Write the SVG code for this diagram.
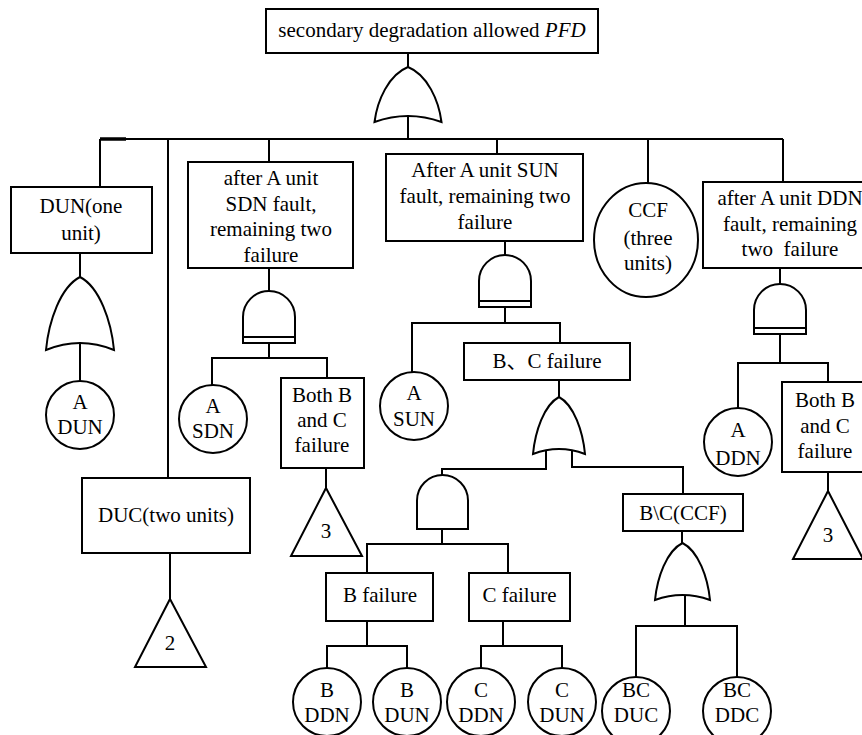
<svg xmlns="http://www.w3.org/2000/svg" width="862" height="735" viewBox="0 0 862 735" font-family="Liberation Serif, Times New Roman, serif">
<style>
.ln{fill:none;stroke:#000;stroke-width:2}
.sh{fill:#fff;stroke:#000;stroke-width:2}
.tx{font-size:21px;text-anchor:middle;fill:#000}
</style>
<rect width="862" height="735" fill="#fff"/>
<g id="connectors" class="ln">
<path d="M408,53V67M408,116V139M100,139H783M100,139V187M168,139V478M269,139V162M497,139V154M648,139V183M783,139V182"/>
<path d="M100,139H126" stroke-width="3.5"/>
<path d="M80,253V277M80,344V381"/>
<path d="M269,268V291M269,343V358H212V385M269,358H327V378M326,468V488"/>
<path d="M170,553V599"/>
<path d="M505,241V255M505,307V323H412V372M505,323H560V343M559,380V397"/>
<path d="M546,451V469H442V475M572,451V467H683V494"/>
<path d="M442,529V544H367V573M442,544H508V573"/>
<path d="M367,621V646H327V668M367,646H407V668M503,621V646H481V668M503,646H562V668"/>
<path d="M682,531V543M685,595V626H636V677M685,626H737V677"/>
<path d="M780,268V284M780,334V363H738V408M780,363H828V382M828,472V491"/>
</g>
<g class="tx">
<g id="top">
<rect class="sh" x="266" y="9" width="332" height="44"/>
<text x="432" y="37">secondary degradation allowed <tspan font-style="italic">PFD</tspan></text>
</g>
<g id="or-top"><path class="sh" d="M408,67C388.6,74.7 377.2,100.6 374.5,122Q408,110 441.5,122C438.8,100.6 427.4,74.7 408,67Z"/></g>
<g id="dun">
<rect class="sh" x="11" y="187" width="141" height="66"/>
<text x="81" y="213">DUN(one</text><text x="81" y="240">unit)</text>
</g>
<g id="or-dun"><path class="sh" d="M80,277C60.3,287.2 48.7,321.5 46,350Q80,336 114,350C111.3,321.5 99.7,287.2 80,277Z"/></g>
<g id="a-dun"><circle class="sh" cx="80" cy="415" r="34"/><text x="80" y="409">A</text><text x="80" y="434">DUN</text></g>
<g id="duc">
<rect class="sh" x="82" y="478" width="168" height="75"/>
<text x="166" y="522">DUC(two units)</text>
</g>
<g id="tri-2"><path class="sh" d="M170,599L206,667H135Z"/><text x="170" y="650">2</text></g>
<g id="sdn">
<rect class="sh" x="188" y="162" width="165" height="106"/>
<text x="271" y="185">after A unit</text><text x="271" y="210.5">SDN fault,</text><text x="271" y="236">remaining two</text><text x="271" y="261.5">failure</text>
</g>
<g id="and-sdn"><path class="sh" d="M243,343V317A26,26 0 0 1 295,317V343Z"/><path class="ln" d="M243,337H295"/></g>
<g id="a-sdn"><circle class="sh" cx="213" cy="419" r="34"/><text x="213" y="413">A</text><text x="213" y="438">SDN</text></g>
<g id="bc-sdn">
<rect class="sh" x="281" y="378" width="83" height="90"/>
<text x="322" y="402">Both B</text><text x="322" y="427">and C</text><text x="322" y="452">failure</text>
</g>
<g id="tri-3a"><path class="sh" d="M326,488L362,556H291Z"/><text x="326" y="538">3</text></g>
<g id="sun">
<rect class="sh" x="386" y="154" width="197" height="87"/>
<text x="485" y="177">After A unit SUN</text><text x="485" y="203">fault, remaining two</text><text x="485" y="229">failure</text>
</g>
<g id="and-sun"><path class="sh" d="M479,307V281A26,26 0 0 1 531,281V307Z"/><path class="ln" d="M479,301H531"/></g>
<g id="a-sun"><circle class="sh" cx="414" cy="406" r="34"/><text x="414" y="400">A</text><text x="414" y="426">SUN</text></g>
<g id="bc-fail">
<rect class="sh" x="464" y="343" width="166" height="37"/>
<text x="547" y="368" font-family="Liberation Serif, Noto Sans CJK SC, serif">B、C failure</text>
</g>
<g id="or-bc"><path class="sh" d="M559,397C543.9,405 535.1,431.8 533,454Q559,444 585,454C582.9,431.8 574.1,405 559,397Z"/></g>
<g id="and-bc"><path class="sh" d="M417,529V500.5A25.5,25.5 0 0 1 468,500.5V529Z"/></g>
<g id="b-fail"><rect class="sh" x="326" y="573" width="107" height="48"/><text x="380" y="602">B failure</text></g>
<g id="c-fail"><rect class="sh" x="469" y="573" width="101" height="48"/><text x="519.5" y="602">C failure</text></g>
<g id="b-ddn"><circle class="sh" cx="327" cy="702" r="34"/><text x="327" y="697">B</text><text x="327" y="722">DDN</text></g>
<g id="b-dun"><circle class="sh" cx="407" cy="702" r="34"/><text x="407" y="697">B</text><text x="407" y="722">DUN</text></g>
<g id="c-ddn"><circle class="sh" cx="481" cy="702" r="34"/><text x="481" y="697">C</text><text x="481" y="722">DDN</text></g>
<g id="c-dun"><circle class="sh" cx="562" cy="702" r="34"/><text x="562" y="697">C</text><text x="562" y="722">DUN</text></g>
<g id="bc-ccf"><rect class="sh" x="623" y="494" width="120" height="37"/><text x="683" y="520">B\C(CCF)</text></g>
<g id="or-ccf"><path class="sh" d="M682.5,543C666.5,551 657.2,577.8 655,600Q682.5,590 710,600C707.8,577.8 698.5,551 682.5,543Z"/></g>
<g id="bc-duc"><circle class="sh" cx="636" cy="711" r="34"/><text x="636" y="697">BC</text><text x="636" y="722">DUC</text></g>
<g id="bc-ddc"><circle class="sh" cx="737" cy="711" r="34"/><text x="737" y="697">BC</text><text x="737" y="722">DDC</text></g>
<g id="ccf"><ellipse class="sh" cx="646" cy="240" rx="52" ry="57"/><text x="648" y="217">CCF</text><text x="648" y="245">(three</text><text x="648" y="270">units)</text></g>
<g id="ddn">
<rect class="sh" x="703" y="182" width="177" height="86"/>
<text x="790" y="205">after A unit DDN</text><text x="790" y="231">fault, remaining</text><text x="790" y="256">two&#160; failure</text>
</g>
<g id="and-ddn"><path class="sh" d="M754,334V310A26,26 0 0 1 806,310V334Z"/><path class="ln" d="M754,328H806"/></g>
<g id="a-ddn"><circle class="sh" cx="738" cy="442" r="34"/><text x="738" y="437">A</text><text x="738" y="465">DDN</text></g>
<g id="bc-ddn">
<rect class="sh" x="782" y="382" width="86" height="90"/>
<text x="825" y="407">Both B</text><text x="825" y="433">and C</text><text x="825" y="458">failure</text>
</g>
<g id="tri-3b"><path class="sh" d="M828,491L863,559H793Z"/><text x="828" y="542">3</text></g>
</g>
</svg>
